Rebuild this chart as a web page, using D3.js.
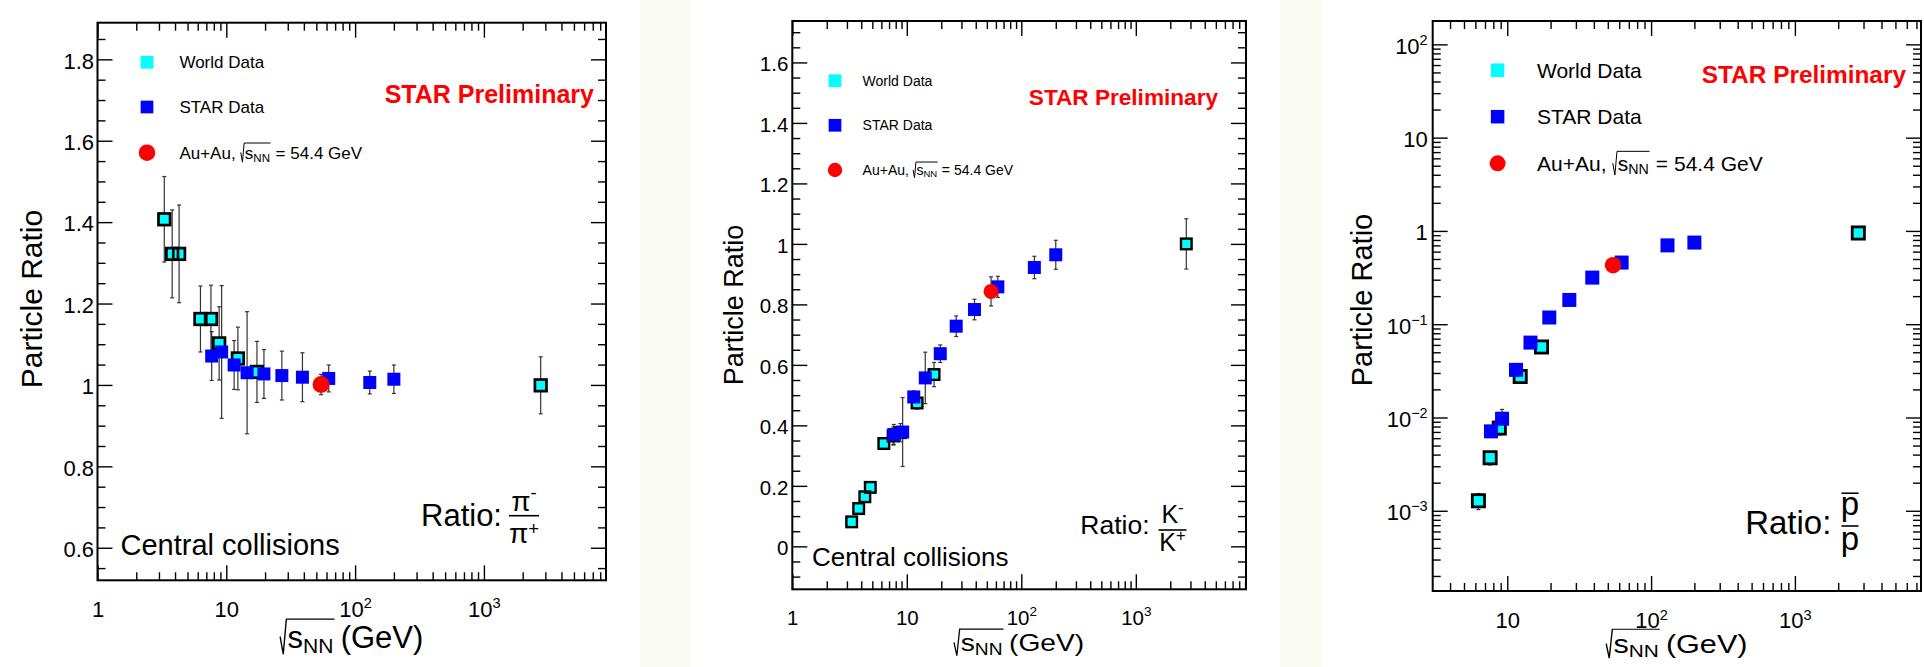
<!DOCTYPE html>
<html>
<head>
<meta charset="utf-8">
<script src="https://cdn.jsdelivr.net/npm/d3@7"></script>
<style>
  html, body { margin: 0; padding: 0; background: #fff; }
  svg { display: block; font-family: "Liberation Sans", Arial, Helvetica, sans-serif; }
</style>
</head>
<body>
<svg id="chart" width="1924" height="667"></svg>
<script>
// ---- data ----
const xTickValues = [1, 10, 100, 1000];
const pionYTicks = [0.6, 0.8, 1, 1.2, 1.4, 1.6, 1.8];
const kaonYTicks = [0, 0.2, 0.4, 0.6, 0.8, 1, 1.2, 1.4, 1.6];
const protonYTicks = [1e-3, 1e-2, 1e-1, 1, 10, 100];

const legendWorld = "World Data";
const legendStar = "STAR Data";
const legendAuPrefix = "Au+Au,";
const legendAuSuffix = "= 54.4 GeV";
const starLabel = "STAR Preliminary";
const centralLabel = "Central collisions";

// pi-/pi+
const energyPiWorld = [3.3, 3.8, 4.3, 6.3, 7.6, 8.8, 12.3, 17.3, 2760];
const ratioPiWorld = [1.407, 1.322, 1.322, 1.162, 1.162, 1.102, 1.065, 1.032, 0.999];
const errPiWorld = [0.105, 0.108, 0.12, 0.081, 0.083, 0.09, 0.077, 0.075, 0.07];
const energyPiStar = [7.7, 9.2, 11.5, 14.5, 19.6, 27, 39, 62.4, 130, 200];
const ratioPiStar = [1.071, 1.081, 1.049, 1.030, 1.027, 1.023, 1.019, 1.016, 1.006, 1.014];
const errPiStar = [0.06, 0.163, 0.06, 0.15, 0.06, 0.06, 0.06, 0.033, 0.028, 0.035];
const ratioPi54 = [1.001];
const errPi54 = [0.025];

// K-/K+
const energyKWorld = [3.3, 3.8, 4.3, 4.8, 6.3, 7.6, 8.8, 12.3, 17.3, 2760];
const ratioKWorld = [0.081, 0.125, 0.164, 0.195, 0.340, 0.365, 0.376, 0.474, 0.568, 1.0];
const errKWorld = [0.008, 0.008, 0.01, 0.01, 0.015, 0.03, 0.03, 0.02, 0.04, 0.083];
const energyKStar = [7.7, 9.2, 11.5, 14.5, 19.6, 27, 39, 62.4, 130, 200];
const ratioKStar = [0.370, 0.378, 0.494, 0.557, 0.637, 0.728, 0.783, 0.858, 0.922, 0.964];
const errKStar = [0.033, 0.114, 0.02, 0.085, 0.029, 0.034, 0.034, 0.035, 0.037, 0.048];
const ratioK54 = [0.843];
const errK54 = [0.048];

// pbar/p
const energyPWorld = [6.3, 7.6, 8.8, 12.3, 17.3, 2760];
const ratioPWorld = [0.00128, 0.0037, 0.0077, 0.0275, 0.057, 0.95];
const errPWorld = [0.00025, 0.0006, 0.0012, 0.003, 0.005, 0.05];
const energyPStar = [7.7, 9.2, 11.5, 14.5, 19.6, 27, 39, 62.4, 130, 200];
const ratioPStar = [0.0071, 0.0097, 0.0324, 0.0635, 0.118, 0.182, 0.316, 0.458, 0.70, 0.75];
const errPStar = [0.0007, 0.0025, 0.002, 0.004, 0.005, 0.008, 0.015, 0.05, 0.05, 0.06];
const ratioP54 = [0.429];
const errP54 = [0.03];

const energy54 = [54.4];

const svg = d3.select("#chart");

// faint tinted strips between panels
svg.append("rect").attr("x", 640).attr("y", 0).attr("width", 50).attr("height", 667).attr("fill", "#f9fbf1");
svg.append("rect").attr("x", 1280).attr("y", 0).attr("width", 42).attr("height", 667).attr("fill", "#f9fbf1");

const zip = (xs, ys, es) => xs.map((v, i) => ({ x: v, y: ys[i], e: es[i] }));

const panels = [
  {
    frame: { left: 97.5, right: 606, top: 22.7, bottom: 580.3 },
    xDomain: [1, 8870], yDomain: [0.52, 1.89], yLog: false, yTicks: pionYTicks,
    tickFs: 22, xPad: 21, yPad: 3.5,
    world: zip(energyPiWorld, ratioPiWorld, errPiWorld),
    star: zip(energyPiStar, ratioPiStar, errPiStar),
    au: zip(energy54, ratioPi54, errPi54),
    worldSide: 11.6, worldStroke: 2.7, starSide: 13, auR: 8.5,
    yTitle: { x: 41.7, y: 299, fs: 30 },
    xTitle: { y: 648, fs: 31, sx: 1 },
    legend: { mx: 147, rows: [62.3, 107, 152.7], tx: 179.4, fs: 17, sq: 12.7, r: 8.3 },
    prelim: { x: 594, y: 102.5, fs: 25 },
    central: { x: 120.5, y: 555, fs: 29 },
    ratio: { x: 421, y: 526, fs: 31, cx: 524, bw: 30, barY: 515.7, numY: 510.5, denY: 543,
             ffs: 28, supUp: 0.3, num: "\u03c0", numSup: "-", den: "\u03c0", denSup: "+", overline: false }
  },
  {
    frame: { left: 792.3, right: 1246, top: 21, bottom: 589.3 },
    xDomain: [1, 9170], yDomain: [-0.142, 1.737], yLog: false, yTicks: kaonYTicks,
    tickFs: 20.5, xPad: 20.7, yPad: 4,
    world: zip(energyKWorld, ratioKWorld, errKWorld),
    star: zip(energyKStar, ratioKStar, errKStar),
    au: zip(energy54, ratioK54, errK54),
    worldSide: 10.6, worldStroke: 2.4, starSide: 13, auR: 7.5,
    yTitle: { x: 743.3, y: 305, fs: 27 },
    xTitle: { y: 651, fs: 23.5, sx: 1.2 },
    legend: { mx: 835, rows: [80.7, 125.3, 170], tx: 862.6, fs: 14, sq: 12.7, r: 7.2 },
    prelim: { x: 1218, y: 104.5, fs: 22.6 },
    central: { x: 812, y: 566, fs: 26 },
    ratio: { x: 1080.3, y: 534, fs: 26.5, cx: 1172.5, bw: 28, barY: 530, numY: 523, denY: 551,
             ffs: 25, supUp: 0.42, num: "K", numSup: "-", den: "K", denSup: "+", overline: false }
  },
  {
    frame: { left: 1432.7, right: 1921, top: 21, bottom: 591 },
    xDomain: [3.03, 7530], yDomain: [1.38e-4, 178], yLog: true, yTicks: protonYTicks,
    tickFs: 22, xPad: 21.7, yPad: 5,
    world: zip(energyPWorld, ratioPWorld, errPWorld),
    star: zip(energyPStar, ratioPStar, errPStar),
    au: zip(energy54, ratioP54, errP54),
    worldSide: 12.2, worldStroke: 2.8, starSide: 14, auR: 8.3,
    yTitle: { x: 1371.7, y: 300, fs: 29 },
    xTitle: { y: 653, fs: 25.5, sx: 1.2 },
    legend: { mx: 1497.6, rows: [70.2, 116.7, 163.3], tx: 1537, fs: 21, sq: 13.5, r: 8 },
    prelim: { x: 1906, y: 83, fs: 24.4 },
    central: null,
    ratio: { x: 1745.2, y: 534, fs: 33, cx: 1850, bw: 17, barY: 526, numY: 515, denY: 550,
             ffs: 33, supUp: 0.42, num: "p", numSup: "", den: "p", denSup: "", overline: true }
  }
];

function logMinors(domain) {
  const out = [];
  for (let d = 1e-4; d <= 1e4; d *= 10) {
    for (let k = 2; k <= 9; k++) {
      const v = k * d;
      if (v > domain[0] && v < domain[1]) out.push(v);
    }
  }
  return out;
}

function linMinors(domain, majors, step) {
  const out = [];
  const n0 = Math.ceil(domain[0] / step), n1 = Math.floor(domain[1] / step);
  for (let n = n0; n <= n1; n++) {
    const v = Math.round(n * step * 1000) / 1000;
    if (!majors.some(m => Math.abs(m - v) < 1e-6)) out.push(v);
  }
  return out;
}

function powLabel(sel, v) {
  const e = Math.round(Math.log10(v));
  sel.text(null);
  if (e === 0) sel.text("1");
  else if (e === 1) sel.text("10");
  else {
    sel.append("tspan").text("10");
    sel.append("tspan").attr("font-size", "0.66em").attr("dy", "-0.6em")
      .text(e < 0 ? "\u2212" + (-e) : String(e));
  }
}

// radical sqrt(s_NN) with optional text before and after
function sqrtText(parent, x, y, fs, before, after, anchor, gapBefore, gapAfter, sx) {
  const grp = parent.append("g");
  let cx = 0;
  if (before) {
    const t = grp.append("text").attr("x", 0).attr("y", 0).attr("font-size", fs).text(before);
    cx = t.node().getComputedTextLength() + gapBefore * fs;
  }
  const r0 = cx;
  const s = grp.append("text").attr("x", r0 + 0.24 * fs).attr("y", 0).attr("font-size", fs);
  s.append("tspan").text("s");
  s.append("tspan").attr("font-size", 0.68 * fs).attr("dy", 0.17 * fs).text("NN");
  const end = r0 + 0.24 * fs + s.node().getComputedTextLength() + 0.03 * fs;
  grp.append("path")
    .attr("d", `M${r0},${-0.37 * fs}L${r0 + 0.1 * fs},${0.2 * fs}L${r0 + 0.2 * fs},${-0.93 * fs}H${end}`)
    .attr("fill", "none").attr("stroke", "#000").attr("stroke-width", Math.max(1, fs * 0.045));
  cx = end + gapAfter * fs;
  const a = grp.append("text").attr("x", cx).attr("y", 0).attr("font-size", fs).text(after);
  cx += a.node().getComputedTextLength();
  const k = sx || 1;
  const shift = anchor === "middle" ? -cx * k / 2 : 0;
  grp.attr("transform", `translate(${x + shift},${y}) scale(${k},1)`);
}

function fracPart(parent, cx, y, fs, base, sup, up) {
  const t = parent.append("text").attr("x", cx).attr("y", y).attr("font-size", fs)
    .attr("text-anchor", "middle");
  t.append("tspan").text(base);
  if (sup) t.append("tspan").attr("font-size", 0.66 * fs).attr("dy", -up * fs).text(sup);
  return t;
}

function drawPanel(p) {
  const f = p.frame, w = f.right - f.left, h = f.bottom - f.top;
  const g = svg.append("g").attr("transform", `translate(${f.left},${f.top})`);
  const x = d3.scaleLog().domain(p.xDomain).range([0, w]);
  const y = (p.yLog ? d3.scaleLog() : d3.scaleLinear()).domain(p.yDomain).range([h, 0]);

  const inX = v => v >= p.xDomain[0] * 0.999 && v <= p.xDomain[1];
  const xMajor = xTickValues.filter(inX);
  const xMinor = logMinors(p.xDomain);
  const yMinor = p.yLog ? logMinors(p.yDomain) : linMinors(p.yDomain, p.yTicks, 0.05);

  const style = sel => {
    sel.select(".domain").remove();
    sel.selectAll("line").attr("stroke", "#000").attr("stroke-width", 1.4);
    sel.attr("font-family", null).attr("font-size", p.tickFs);
  };

  // bottom axis
  g.append("g").attr("transform", `translate(0,${h})`)
    .call(d3.axisBottom(x).tickValues(xMajor).tickSize(-15).tickPadding(p.xPad).tickFormat(d => d))
    .call(style)
    .selectAll("text").attr("fill", "#000").each(function (d) { powLabel(d3.select(this), d); });
  g.append("g").attr("transform", `translate(0,${h})`)
    .call(d3.axisBottom(x).tickValues(xMinor).tickSize(-8).tickFormat("")).call(style);
  // top axis
  g.append("g").call(d3.axisTop(x).tickValues(xMajor).tickSize(-15).tickFormat("")).call(style);
  g.append("g").call(d3.axisTop(x).tickValues(xMinor).tickSize(-8).tickFormat("")).call(style);
  // left axis
  g.append("g")
    .call(d3.axisLeft(y).tickValues(p.yTicks).tickSize(-15).tickPadding(p.yPad).tickFormat(d => d))
    .call(style)
    .selectAll("text").attr("fill", "#000").attr("dy", "0.4em")
    .each(function (d) {
      if (p.yLog) powLabel(d3.select(this), d);
      else d3.select(this).text(String(+d.toFixed(2)));
    });
  g.append("g").call(d3.axisLeft(y).tickValues(yMinor).tickSize(-8).tickFormat("")).call(style);
  // right axis
  g.append("g").attr("transform", `translate(${w},0)`)
    .call(d3.axisRight(y).tickValues(p.yTicks).tickSize(-15).tickFormat("")).call(style);
  g.append("g").attr("transform", `translate(${w},0)`)
    .call(d3.axisRight(y).tickValues(yMinor).tickSize(-8).tickFormat("")).call(style);

  // frame
  g.append("rect").attr("width", w).attr("height", h)
    .attr("fill", "none").attr("stroke", "#000").attr("stroke-width", 2);

  // error bars
  const all = p.world.concat(p.star, p.au);
  const eb = g.append("g").attr("stroke", "#333").attr("stroke-width", 1.2);
  eb.selectAll("line.v").data(all).join("line").attr("class", "v")
    .attr("x1", d => x(d.x)).attr("x2", d => x(d.x))
    .attr("y1", d => y(d.y - d.e)).attr("y2", d => y(d.y + d.e));
  eb.selectAll("line.t").data(all).join("line").attr("class", "t")
    .attr("x1", d => x(d.x) - 2).attr("x2", d => x(d.x) + 2)
    .attr("y1", d => y(d.y + d.e)).attr("y2", d => y(d.y + d.e));
  eb.selectAll("line.b").data(all).join("line").attr("class", "b")
    .attr("x1", d => x(d.x) - 2).attr("x2", d => x(d.x) + 2)
    .attr("y1", d => y(d.y - d.e)).attr("y2", d => y(d.y - d.e));

  // world data: cyan fill then black outline
  const ws = p.worldSide;
  g.append("g").selectAll("rect").data(p.world).join("rect")
    .attr("x", d => x(d.x) - ws / 2).attr("y", d => y(d.y) - ws / 2)
    .attr("width", ws).attr("height", ws).attr("fill", "#00ffff");
  g.append("g").selectAll("rect").data(p.world).join("rect")
    .attr("x", d => x(d.x) - ws / 2).attr("y", d => y(d.y) - ws / 2)
    .attr("width", ws).attr("height", ws).attr("fill", "none")
    .attr("stroke", "#000").attr("stroke-width", p.worldStroke);

  // STAR data
  const ss = p.starSide;
  g.append("g").selectAll("rect").data(p.star).join("rect")
    .attr("x", d => x(d.x) - ss / 2).attr("y", d => y(d.y) - ss / 2)
    .attr("width", ss).attr("height", ss).attr("fill", "#0000ff");

  // Au+Au 54.4
  g.append("g").selectAll("circle").data(p.au).join("circle")
    .attr("cx", d => x(d.x)).attr("cy", d => y(d.y)).attr("r", p.auR).attr("fill", "#ff0000");

  // legend
  const L = p.legend;
  svg.append("rect").attr("x", L.mx - L.sq / 2).attr("y", L.rows[0] - L.sq / 2)
    .attr("width", L.sq).attr("height", L.sq).attr("fill", "#00ffff");
  svg.append("rect").attr("x", L.mx - L.sq / 2).attr("y", L.rows[1] - L.sq / 2)
    .attr("width", L.sq).attr("height", L.sq).attr("fill", "#0000ff");
  svg.append("circle").attr("cx", L.mx).attr("cy", L.rows[2]).attr("r", L.r).attr("fill", "#ff0000");
  svg.append("text").attr("x", L.tx).attr("y", L.rows[0] + 0.36 * L.fs).attr("font-size", L.fs).text(legendWorld);
  svg.append("text").attr("x", L.tx).attr("y", L.rows[1] + 0.36 * L.fs).attr("font-size", L.fs).text(legendStar);
  sqrtText(svg, L.tx, L.rows[2] + 0.36 * L.fs, L.fs, legendAuPrefix, legendAuSuffix, "start", 0.3, 0.3, 1);

  // STAR Preliminary
  svg.append("text").attr("x", p.prelim.x).attr("y", p.prelim.y).attr("font-size", p.prelim.fs)
    .attr("font-weight", "bold").attr("fill", "#ff0000").attr("text-anchor", "end").text(starLabel);

  // Central collisions
  if (p.central) {
    svg.append("text").attr("x", p.central.x).attr("y", p.central.y).attr("font-size", p.central.fs)
      .text(centralLabel);
  }

  // Ratio: fraction
  const R = p.ratio;
  svg.append("text").attr("x", R.x).attr("y", R.y).attr("font-size", R.fs).text("Ratio:");
  svg.append("line").attr("x1", R.cx - R.bw / 2).attr("x2", R.cx + R.bw / 2)
    .attr("y1", R.barY).attr("y2", R.barY).attr("stroke", "#000").attr("stroke-width", 1.6);
  fracPart(svg, R.cx, R.numY, R.ffs, R.num, R.numSup, 0.42);
  fracPart(svg, R.cx, R.denY, R.ffs, R.den, R.denSup, R.supUp);
  if (R.overline) {
    const oy = R.numY - 0.66 * R.ffs;
    svg.append("line").attr("x1", R.cx - R.bw / 2).attr("x2", R.cx + R.bw / 2)
      .attr("y1", oy).attr("y2", oy).attr("stroke", "#000").attr("stroke-width", 1.6);
  }

  // axis titles
  svg.append("text").attr("transform", `translate(${p.yTitle.x},${p.yTitle.y}) rotate(-90)`)
    .attr("text-anchor", "middle").attr("font-size", p.yTitle.fs).text("Particle Ratio");
  sqrtText(svg, (f.left + f.right) / 2, p.xTitle.y, p.xTitle.fs, null, "(GeV)", "middle", 0, 0.2, p.xTitle.sx);
}

panels.forEach(drawPanel);
</script>
</body>
</html>
